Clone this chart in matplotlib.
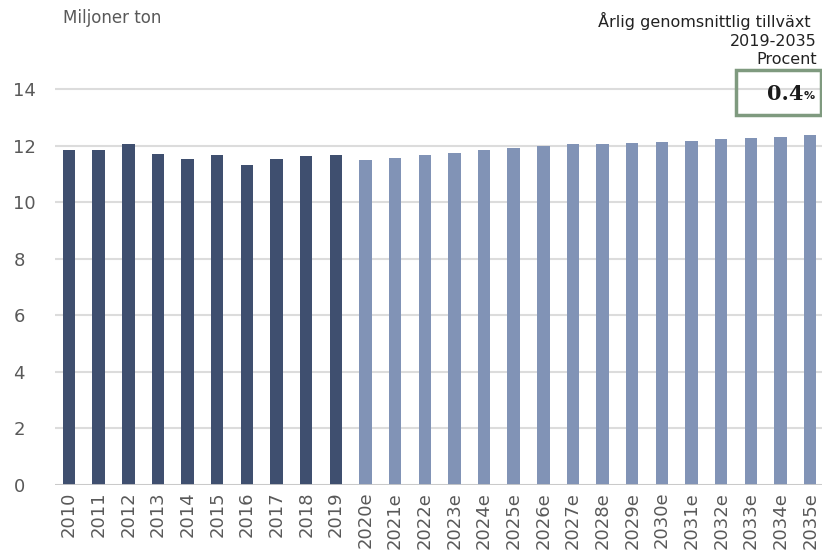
"""
Årlig tillväxt – miljoner ton, 2010–2035e
"""
import matplotlib.pyplot as plt
import matplotlib
from matplotlib.patches import Rectangle

matplotlib.rcParams['font.family'] = ['DejaVu Sans']

# ============================================================
# 1. Data
# ============================================================
years_hist = ['2010', '2011', '2012', '2013', '2014', '2015', '2016', '2017', '2018', '2019']
vals_hist = [11.86, 11.86, 12.04, 11.72, 11.54, 11.65, 11.33, 11.54, 11.62, 11.67]

years_fc = ['2020e', '2021e', '2022e', '2023e', '2024e', '2025e', '2026e', '2027e',
            '2028e', '2029e', '2030e', '2031e', '2032e', '2033e', '2034e', '2035e']
vals_fc = [11.48, 11.56, 11.67, 11.75, 11.85, 11.93, 11.99, 12.04,
           12.06, 12.10, 12.13, 12.18, 12.23, 12.27, 12.32, 12.37]

y_ticks = [0, 2, 4, 6, 8, 10, 12, 14]
growth = '0.4'

# ============================================================
# 2. Plot
# ============================================================
dark = '#3f4f6f'
light = '#8193b6'
grey_txt = '#595959'

fig = plt.figure(figsize=(8.22, 5.58), dpi=100)
ax = fig.add_axes([0.067, 0.131, 0.933, 0.7145])

labels = years_hist + years_fc
x_hist = list(range(len(years_hist)))
x_fc = list(range(len(years_hist), len(labels)))

ax.bar(x_hist, vals_hist, width=0.42, color=dark, zorder=3)
ax.bar(x_fc, vals_fc, width=0.42, color=light, zorder=3)

ax.set_ylim(0, 14.1)
ax.set_xlim(-0.47, 25.4)
ax.set_yticks(y_ticks)
ax.set_xticks(range(len(labels)))
ax.set_xticklabels(labels, rotation=90, fontsize=13, color=grey_txt)
ax.tick_params(axis='y', labelsize=13, labelcolor=grey_txt, length=0, pad=30)
ax.tick_params(axis='x', length=0, pad=5)
for lab in ax.get_yticklabels():
    lab.set_horizontalalignment('left')

ax.grid(axis='y', color='#dcdcdc', linewidth=1.5, zorder=0)
ax.axhline(0, color='#c8c8c8', linewidth=2, zorder=4)
for s in ax.spines.values():
    s.set_visible(False)

# --- texter ---
fig.text(63 / 822, 1 - 18 / 558, 'Miljoner ton', fontsize=12, color=grey_txt,
         ha='left', va='center')
fig.text(811 / 822, 1 - 21 / 558, 'Årlig genomsnittlig tillväxt', fontsize=11.5,
         color='#222222', ha='right', va='center')
fig.text(817 / 822, 1 - 41 / 558, '2019-2035', fontsize=11.5,
         color='#222222', ha='right', va='center')
fig.text(817 / 822, 1 - 60 / 558, 'Procent', fontsize=11.5,
         color='#222222', ha='right', va='center')

# --- ruta med tillväxt ---
box = Rectangle((736 / 822, 1 - 115 / 558), 85 / 822, 45 / 558,
                transform=fig.transFigure, fill=False,
                edgecolor='#7f9a7f', linewidth=2.5)
fig.patches.append(box)
fig.text(803 / 822, 1 - 94 / 558, growth, fontsize=15, fontweight='bold',
         family='DejaVu Serif', color='#1a1a1a', ha='right', va='center')
fig.text(804 / 822, 1 - 96 / 558, '%', fontsize=8, fontweight='bold',
         color='#1a1a1a', ha='left', va='center')

plt.savefig('out.png', dpi=100)
plt.close()
